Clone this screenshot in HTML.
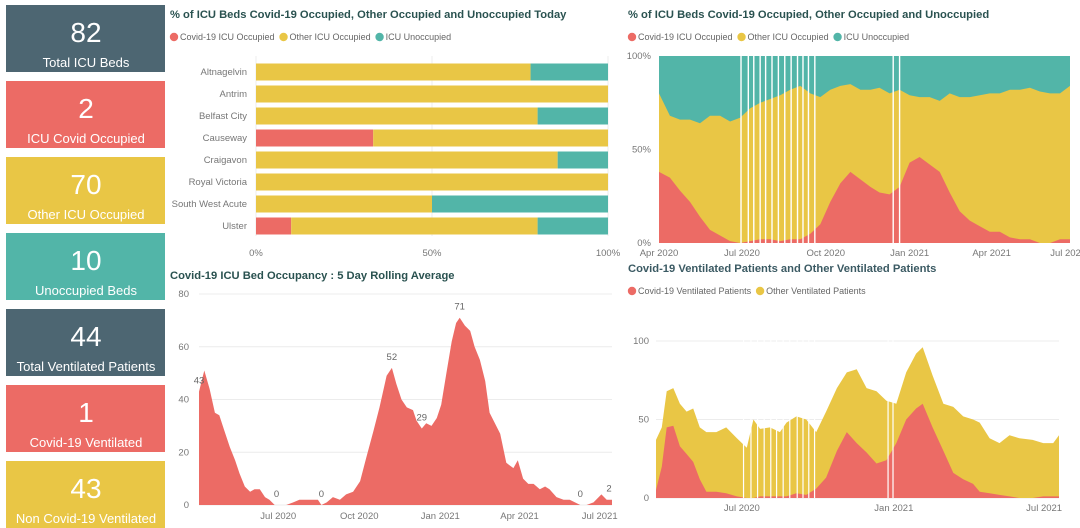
<!DOCTYPE html>
<html><head><meta charset="utf-8"><style>
html,body{margin:0;padding:0;background:#fff;width:1080px;height:528px;overflow:hidden}
svg{display:block;font-family:"Liberation Sans",sans-serif}
.t{font-weight:bold;font-size:11.2px;fill:#2a5250}
.lg{font-size:9px;fill:#666}
.ax{font-size:9.5px;fill:#777}
</style></head><body>
<svg id="s" width="1080" height="528" viewBox="0 0 1080 528" xmlns="http://www.w3.org/2000/svg">
<g id="kpis"></g>
<g id="bar">
<text class="t" x="170" y="18">% of ICU Beds Covid-19 Occupied, Other Occupied and Unoccupied Today</text>
</g>
<g id="roll">
<text class="t" x="170" y="279">Covid-19 ICU Bed Occupancy : 5 Day Rolling Average</text>
</g>
<g id="pct">
<text class="t" x="628" y="18">% of ICU Beds Covid-19 Occupied, Other Occupied and Unoccupied</text>
</g>
<g id="vent">
<text class="t" x="628" y="272" style="fill:#3b5a63">Covid-19 Ventilated Patients and Other Ventilated Patients</text>
</g>
</svg>
<script>
// KPI data
const kpiValues=["82","2","70","10","44","1","43"];
const kpiLabels=["Total ICU Beds","ICU Covid Occupied","Other ICU Occupied","Unoccupied Beds","Total Ventilated Patients","Covid-19 Ventilated","Non Covid-19 Ventilated"];
// Today bar chart data
const hospitals=["Altnagelvin","Antrim","Belfast City","Causeway","Craigavon","Royal Victoria","South West Acute","Ulster"];
const covidShare=[0,0,0,0.333,0,0,0,0.1];
const otherShare=[0.78,1,0.8,0.667,0.857,1,0.5,0.7];
// Rolling average data (days since 2 Apr 2020)
const rollDays=[0,6,12,18,23,29,35,41,46,52,58,63,69,75,80,86,92,99,107,114,122,130,135,139,145,152,160,167,175,183,190,198,205,213,219,224,230,236,243,247,253,258,264,270,275,281,287,292,296,302,308,313,319,325,330,336,342,349,357,362,368,374,380,387,393,398,406,414,421,427,433,440,448,457,463,469];
const rollVals=[43,51,44,35,34,28,22,17,12,7,5,6,6,3,2,0,0,0,1,2,2,2,2,0,1,3,2,4,5,9,18,28,37,49,52,46,40,37,36,32,29,31,30,33,38,50,62,69,71,68,66,60,55,47,35,31,27,16,14,17,10,8,8,6,7,6,3,2,2,1,0,0,1,4,2,2];
const rollLabelDays=[0,219,253,296,88,139,433,469];
const rollLabelText=["43","52","29","71","0","0","0","2"];
const rollTicks=[0,20,40,60,80];
const rollXLabels=["Jul 2020","Oct 2020","Jan 2021","Apr 2021","Jul 2021"];
const rollXDays=[90,182,274,364,455];
// Percent chart data (days since 1 Apr 2020)
const pctDays=[0,12,23,34,45,56,67,78,89,100,111,122,133,144,155,166,177,188,199,210,221,232,242,253,264,275,286,297,308,319,330,341,352,363,374,385,396,407,418,429,440,451];
const pctCovid=[38,35,28,22,14,7,4,1,0,1,2,2,1,2,2,5,10,22,32,38,34,30,27,26,30,43,46,42,38,27,17,12,9,6,6,3,2,2,0,0,2,2];
const pctOccupied=[80,68,66,66,64,68,68,65,67,72,75,77,79,82,84,80,78,82,84,85,82,82,83,80,82,79,78,78,76,80,78,78,79,80,80,82,82,83,81,80,80,84];
const pctGaps=[90,98,104,111,117,124,131,138,145,152,158,164,171,257,264];
const pctTicks=[0,50,100];
const pctXLabels=["Apr 2020","Jul 2020","Oct 2020","Jan 2021","Apr 2021","Jul 2021"];
const pctXDays=[0,91,183,275,365,449];
// Ventilated data (days since 19 Mar 2020)
const ventDays=[0,7,13,21,29,37,45,53,61,73,85,98,110,118,126,138,150,158,170,182,194,206,219,231,243,255,267,279,291,303,315,323,335,348,360,372,384,392,404,416,428,440,456,469,481,488];
const ventCovid=[5,20,45,46,33,28,23,12,4,4,3,1,0,0,1,1,1,1,3,2,6,13,30,42,35,29,22,24,35,50,57,60,45,30,16,12,9,4,3,2,1,0,0,1,1,1];
const ventTotal=[37,45,68,70,60,55,57,45,42,42,45,38,32,50,44,45,42,48,52,50,42,55,70,80,82,70,68,62,60,80,92,96,78,60,58,52,50,48,38,35,40,38,37,35,35,40];
const ventGaps=[106,115,123,131,139,146,154,162,171,178,185,192,281,287];
const ventTicks=[0,50,100];
const ventXLabels=["Jul 2020","Jan 2021","Jul 2021"];
const ventXDays=[104,288,470];

const NS="http://www.w3.org/2000/svg";
const RED="#ec6b65",YEL="#e9c645",TEAL="#52b5a8",DARK="#4d6672";
function mk(p,tag,at,txt){const e=document.createElementNS(NS,tag);for(const k in at)e.setAttribute(k,at[k]);if(txt!==undefined)e.textContent=txt;p.appendChild(e);return e;}

// KPIs
const kpiCols=[DARK,RED,YEL,TEAL,DARK,RED,YEL];
const K=document.getElementById('kpis');
kpiValues.forEach((v,i)=>{
  const y=5+i*76;
  const r=mk(K,'rect',{x:6,y:y,width:159,height:67,fill:kpiCols[i]});
  
  
  const a=mk(K,'text',{x:86,y:y+37,'text-anchor':'middle','font-size':28,fill:'#fff'},v);
  
  
  const b=mk(K,'text',{x:86,y:y+62,'text-anchor':'middle','font-size':13,fill:'#fff'},kpiLabels[i]);
  
  
});

function legend(g,x,y,items){
  let cx=x;
  items.forEach(([c,t])=>{
    const d=mk(g,'circle',{cx:cx+4,cy:y-3,r:4.2,fill:c});
    
    
    const tx=mk(g,'text',{x:cx+10,y:y,class:'lg'},t);
    
    
    cx+=10+tx.getComputedTextLength()+5;
  });
}

// Today bar chart
(function(){
  const g=document.getElementById('bar');
  legend(g,170,40,[[RED,"Covid-19 ICU Occupied"],[YEL,"Other ICU Occupied"],[TEAL,"ICU Unoccupied"]]);
  const x0=256,x1=608;const xs=v=>x0+v*(x1-x0);
  [0,0.5,1].forEach((t,i)=>{
    const l=mk(g,'line',{x1:xs(t),x2:xs(t),y1:56,y2:236,stroke:'#eee'});
    
    
    const tx=mk(g,'text',{x:xs(t),y:256,'text-anchor':'middle',class:'ax'},["0%","50%","100%"][i]);
    
    
  });
  hospitals.forEach((h,i)=>{
    const yc=72+i*22,y=yc-8.5,hh=17;
    const c=covidShare[i],o=otherShare[i];
    const a=mk(g,'rect',{x:xs(0),y:y,width:xs(c)-xs(0),height:hh,fill:RED});
    
    
    const b=mk(g,'rect',{x:xs(c),y:y,width:xs(c+o)-xs(c),height:hh,fill:YEL});
    
    
    const d=mk(g,'rect',{x:xs(c+o),y:y,width:xs(1)-xs(c+o),height:hh,fill:TEAL});
    
    
    const tx=mk(g,'text',{x:247,y:yc+3,'text-anchor':'end',class:'ax'},h);
    
    
  });
})();

// Rolling average
(function(){
  const g=document.getElementById('roll');
  const X0=199,X1=612,Y0=505,Y1=294,D=469;
  const xs=d=>X0+d*(X1-X0)/D, ys=v=>Y0-v*(Y0-Y1)/80;
  rollTicks.forEach(t=>{
    const l=mk(g,'line',{x1:X0,x2:X1,y1:ys(t),y2:ys(t),stroke:'#ececec'});
    
    
    const tx=mk(g,'text',{x:189,y:ys(t)+3,'text-anchor':'end',class:'ax'},String(t));
    
    
  });
  let p='M'+xs(rollDays[0])+','+Y0;
  rollDays.forEach((d,i)=>{p+=' L'+xs(d).toFixed(1)+','+ys(rollVals[i]).toFixed(1);});
  p+=' L'+xs(rollDays[rollDays.length-1])+','+Y0+'Z';
  const a=mk(g,'path',{d:p,fill:RED});
  
  
  rollLabelDays.forEach((d,i)=>{
    let k=0;rollDays.forEach((dd,j)=>{if(Math.abs(dd-d)<Math.abs(rollDays[k]-d))k=j;});
    const tx=mk(g,'text',{x:xs(d)+(i==7?-3:0),y:ys(rollVals[k])-8,'text-anchor':'middle',class:'ax',style:'fill:#666'},rollLabelText[i]);
    
    
  });
  rollXLabels.forEach((t,i)=>{
    const tx=mk(g,'text',{x:xs(rollXDays[i]),y:519,'text-anchor':'middle',class:'ax'},t);
    
    
  });
})();

// Percent chart
(function(){
  const g=document.getElementById('pct');
  legend(g,628,40,[[RED,"Covid-19 ICU Occupied"],[YEL,"Other ICU Occupied"],[TEAL,"ICU Unoccupied"]]);
  const X0=659,X1=1070,Y0=243,Y1=56,D=451;
  const xs=d=>X0+d*(X1-X0)/D, ys=v=>Y0-v*(Y0-Y1)/100;
  const bg=mk(g,'rect',{x:X0,y:Y1,width:X1-X0,height:Y0-Y1,fill:TEAL});
  
  
  function area(vals,name,col){
    let p='M'+X0+','+Y0;
    pctDays.forEach((d,i)=>{p+=' L'+xs(d).toFixed(1)+','+ys(vals[i]).toFixed(1);});
    p+=' L'+X1+','+Y0+'Z';
    const a=mk(g,'path',{d:p,fill:col});
    
    
  }
  area(pctOccupied,'other-occupied-area',YEL);
  area(pctCovid,'covid-occupied-area',RED);
  pctGaps.forEach(d=>{
    const l=mk(g,'rect',{x:xs(d)-0.7,y:Y1,width:1.4,height:Y0-Y1,fill:'#fff'});
    
    
  });
  pctTicks.forEach(t=>{
    const tx=mk(g,'text',{x:651,y:ys(t)+3,'text-anchor':'end',class:'ax'},t+'%');
    
    
  });
  pctXLabels.forEach((t,i)=>{
    const tx=mk(g,'text',{x:xs(pctXDays[i]),y:256,'text-anchor':'middle',class:'ax'},t);
    
    
  });
})();

// Ventilated chart
(function(){
  const g=document.getElementById('vent');
  legend(g,628,294,[[RED,"Covid-19 Ventilated Patients"],[YEL,"Other Ventilated Patients"]]);
  const X0=656,X1=1059,Y0=498,Y1=341,D=488;
  const xs=d=>X0+d*(X1-X0)/D, ys=v=>Y0-v*(Y0-Y1)/100;
  ventTicks.forEach(t=>{
    const l=mk(g,'line',{x1:X0,x2:X1,y1:ys(t),y2:ys(t),stroke:'#ececec'});
    
    
    const tx=mk(g,'text',{x:649,y:ys(t)+3,'text-anchor':'end',class:'ax'},String(t));
    
    
  });
  function area(vals,name,col){
    let p='M'+X0+','+Y0;
    ventDays.forEach((d,i)=>{p+=' L'+xs(d).toFixed(1)+','+ys(vals[i]).toFixed(1);});
    p+=' L'+X1+','+Y0+'Z';
    const a=mk(g,'path',{d:p,fill:col});
    
    
  }
  area(ventTotal,'other-ventilated-area',YEL);
  area(ventCovid,'covid-ventilated-area',RED);
  ventGaps.forEach(d=>{
    const l=mk(g,'rect',{x:xs(d)-0.6,y:Y1-10,width:1.2,height:Y0-Y1+10,fill:'#fff'});
    
    
  });
  ventXLabels.forEach((t,i)=>{
    const tx=mk(g,'text',{x:xs(ventXDays[i]),y:511,'text-anchor':'middle',class:'ax'},t);
    
    
  });
})();
</script>
</body></html>
